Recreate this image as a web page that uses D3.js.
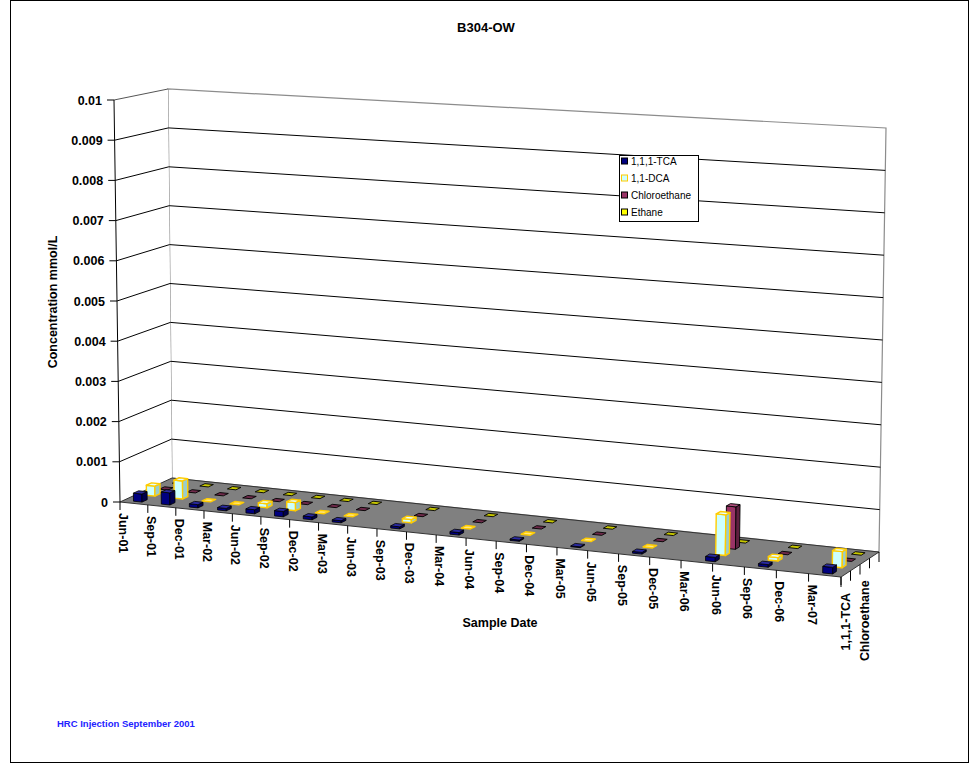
<!DOCTYPE html>
<html>
<head>
<meta charset="utf-8">
<script src="https://cdn.jsdelivr.net/npm/d3@7"></script>
<style>
  body { margin: 0; background: #fff; }
  svg { display: block; }
  text { font-family: Arial, "Liberation Sans", Helvetica, sans-serif; }
</style>
</head>
<body>
<svg id="chart" width="971" height="765"></svg>
<script>
// ---- data -----------------------------------------------------------
const seriesNames = ["1,1,1-TCA", "1,1-DCA", "Chloroethane", "Ethane"];
const sampleMonths = ["2001-07", "2001-10", "2002-01", "2002-04", "2002-07", "2002-10",
                      "2003-01", "2003-04", "2003-10", "2004-04", "2004-10", "2005-04",
                      "2005-10", "2006-05", "2006-10", "2007-04"];
const tcaValues    = [0.0002, 0.0003, 0.00008, 0.00006, 0.0001, 0.00013, 0.00007, 0.00005,
                      0.00005, 0.00006, 0.00003, 0.00002, 0.00004, 0.0001, 0.00006, 0.00015];
const dcaValues    = [0.00025, 0.00045, 0, 0, 0.0001, 0.0002, 0, 0,
                      0.00008, 0, 0, 0, 0, 0.00095, 0.00008, 0.00037];
const chloroValues = [0, 0, 0, 0, 0, 0, 0, 0, 0, 0, 0, 0, 0, 0.001, 0, 0];
const ethaneValues = [0, 0, 0, 0, 0, 0, 0, 0, 0, 0, 0, 0, 0, 0, 0, 0];
const quarterLabels = ["Jun-01", "Sep-01", "Dec-01", "Mar-02", "Jun-02", "Sep-02", "Dec-02",
                       "Mar-03", "Jun-03", "Sep-03", "Dec-03", "Mar-04", "Jun-04", "Sep-04",
                       "Dec-04", "Mar-05", "Jun-05", "Sep-05", "Dec-05", "Mar-06", "Jun-06",
                       "Sep-06", "Dec-06", "Mar-07"];
const yTicks = [0, 0.001, 0.002, 0.003, 0.004, 0.005, 0.006, 0.007, 0.008, 0.009, 0.01];
const yTickLabels = ["0", "0.001", "0.002", "0.003", "0.004", "0.005", "0.006",
                     "0.007", "0.008", "0.009", "0.01"];

const seriesValues = [tcaValues, dcaValues, chloroValues, ethaneValues];
const seriesStyle = [
  { front: "#000080", top: "#2a2aa0", side: "#00004d", flat: "#00004d", stroke: "#000000", sw: 0.8 },
  { front: "#ccffff", top: "#e6ffff", side: "#99cccc", flat: "#ffe680", stroke: "#ffcc00", sw: 1.4 },
  { front: "#993366", top: "#b0507f", side: "#5e1f3f", flat: "#6e2a4a", stroke: "#000000", sw: 0.9 },
  { front: "#ffff00", top: "#ffff66", side: "#b3b300", flat: "#c8c800", stroke: "#000000", sw: 0.9 }
];

// ---- 3-D box geometry ------------------------------------------------
// Screen corners of the plot cube; key = u (dates), w (series depth), v (value).
const cube = {
  "000": [120, 502], "001": [114, 100], "010": [172, 478], "011": [168, 89],
  "100": [841, 577], "101": [850, 137], "110": [879, 552], "111": [886, 128]
};
const perspective = 0.923;  // foreshortening along the date axis
function warp(u) { return perspective * u / (1 + (perspective - 1) * u); }
function project(u, w, v) {
  const a = warp(u);
  let x = 0, y = 0;
  for (const key in cube) {
    const cu = +key[0], cw = +key[1], cv = +key[2];
    const wt = (cu ? a : 1 - a) * (cw ? w : 1 - w) * (cv ? v : 1 - v);
    x += wt * cube[key][0];
    y += wt * cube[key][1];
  }
  return [x, y];
}
const pathOf = pts => "M" + pts.map(p => p[0].toFixed(2) + "," + p[1].toFixed(2)).join("L") + "Z";

// ---- scales ------------------------------------------------------------
const monthKey = d3.timeFormat("%Y-%m");
const months = d3.timeMonth.range(new Date(2001, 5, 1), new Date(2007, 5, 1));
const xBand = d3.scaleBand().domain(months.map(monthKey)).range([0, 1]);
const zBand = d3.scaleBand().domain(seriesNames).range([0, 1]).paddingInner(0.6).paddingOuter(0.3);
const zStep = d3.scaleBand().domain(seriesNames).range([0, 1]);
const yScale = d3.scaleLinear().domain([0, 0.01]).range([0, 1]);

const svg = d3.select("#chart");

// outer frame
svg.append("rect").attr("x", 10.5).attr("y", 0.5).attr("width", 958).attr("height", 762)
  .attr("fill", "#fff").attr("stroke", "#000").attr("stroke-width", 1);

// title
svg.append("text").attr("x", 486).attr("y", 32).attr("text-anchor", "middle")
  .attr("font-size", 13).attr("font-weight", "bold").text("B304-OW");

// ---- walls -------------------------------------------------------------
const walls = svg.append("g");
walls.append("path")
  .attr("d", pathOf([project(0, 1, 0), project(1, 1, 0), project(1, 1, 1), project(0, 1, 1)]))
  .attr("fill", "#fff").attr("stroke", "#8c8c8c").attr("stroke-width", 1.2);
walls.append("path")
  .attr("d", pathOf([project(0, 0, 0), project(0, 1, 0), project(0, 1, 1), project(0, 0, 1)]))
  .attr("fill", "#fff").attr("stroke", "none");
walls.append("line")
  .attr("x1", project(0, 0, 1)[0]).attr("y1", project(0, 0, 1)[1])
  .attr("x2", project(0, 1, 1)[0]).attr("y2", project(0, 1, 1)[1])
  .attr("stroke", "#555").attr("stroke-width", 1);

// gridlines on the side and back walls
yTicks.filter(t => t > 0 && t < 0.01).forEach(t => {
  const v = yScale(t);
  const a = project(0, 0, v), b = project(0, 1, v), c = project(1, 1, v);
  walls.append("path").attr("d", `M${a[0]},${a[1]}L${b[0]},${b[1]}L${c[0]},${c[1]}`)
    .attr("fill", "none").attr("stroke", "#000").attr("stroke-width", 1);
});

// floor
svg.append("path")
  .attr("d", pathOf([project(0, 0, 0), project(1, 0, 0), project(1, 1, 0), project(0, 1, 0)]))
  .attr("fill", "#808080").attr("stroke", "#333").attr("stroke-width", 1);

// ---- legend --------------------------------------------------------------
const legend = svg.append("g");
legend.append("rect").attr("x", 619.5).attr("y", 155.5).attr("width", 79).attr("height", 66)
  .attr("fill", "#fff").attr("stroke", "#000").attr("stroke-width", 1);
seriesNames.forEach((name, i) => {
  const cy = 161.5 + i * 17;
  legend.append("rect").attr("x", 621.5).attr("y", cy - 3.5).attr("width", 6).attr("height", 6)
    .attr("fill", seriesStyle[i].front).attr("stroke", seriesStyle[i].stroke).attr("stroke-width", 1);
  legend.append("text").attr("x", 631).attr("y", cy + 3.5).attr("font-size", 10).text(name);
});

// ---- columns ---------------------------------------------------------------
const bars = svg.append("g");
const parseMonth = d3.timeParse("%Y-%m");
for (let s = seriesNames.length - 1; s >= 0; s--) {
  const st = seriesStyle[s];
  const w0 = zBand(seriesNames[s]), w1 = w0 + zBand.bandwidth();
  seriesValues[s].forEach((val, i) => {
    if (val == null) return;
    const key = monthKey(parseMonth(sampleMonths[i]));
    const bw = xBand.bandwidth();
    const u0 = xBand(key) + bw * 0.04, u1 = xBand(key) + bw * 0.96;
    const v = yScale(val);
    const g = bars.append("g").attr("stroke", st.stroke).attr("stroke-width", st.sw)
      .attr("stroke-linejoin", "round");
    if (v > 0) {
      g.append("path").attr("fill", st.front)
        .attr("d", pathOf([project(u0, w0, 0), project(u1, w0, 0), project(u1, w0, v), project(u0, w0, v)]));
      g.append("path").attr("fill", st.side)
        .attr("d", pathOf([project(u1, w0, 0), project(u1, w1, 0), project(u1, w1, v), project(u1, w0, v)]));
    }
    g.append("path").attr("fill", v > 0 ? st.top : st.flat)
      .attr("d", pathOf([project(u0, w0, v), project(u1, w0, v), project(u1, w1, v), project(u0, w1, v)]));
  });
}

// ---- value axis --------------------------------------------------------------
const yAxis = svg.append("g");
const base = project(0, 0, 0), topPt = project(0, 0, 1);
yAxis.append("line").attr("x1", base[0]).attr("y1", base[1]).attr("x2", topPt[0]).attr("y2", topPt[1])
  .attr("stroke", "#000").attr("stroke-width", 1);
yTicks.forEach((t, i) => {
  const p = project(0, 0, yScale(t));
  yAxis.append("line").attr("x1", p[0] - 7).attr("y1", p[1]).attr("x2", p[0]).attr("y2", p[1])
    .attr("stroke", "#000");
  yAxis.append("text").attr("x", p[0] - 12).attr("y", p[1] + 4.5).attr("text-anchor", "end")
    .attr("font-size", 12.5).attr("font-weight", "bold").text(yTickLabels[i]);
});
svg.append("text").attr("transform", "translate(57,302) rotate(-90)").attr("text-anchor", "middle")
  .attr("font-size", 12.5).attr("font-weight", "bold").text("Concentration mmol/L");

// ---- date axis -----------------------------------------------------------------
const xAxis = svg.append("g");
const tickUs = quarterLabels.map((lab, i) => xBand(monthKey(months[i * 3])));
tickUs.concat([1]).forEach(u => {
  const p = project(u, 0, 0);
  xAxis.append("line").attr("x1", p[0]).attr("y1", p[1]).attr("x2", p[0]).attr("y2", p[1] + 8)
    .attr("stroke", "#000");
});
quarterLabels.forEach((lab, i) => {
  const p = project(tickUs[i], 0, 0);
  xAxis.append("text").attr("transform", `translate(${p[0] + 3},${p[1] + 11}) rotate(90)`)
    .attr("dominant-baseline", "central").attr("font-size", 12.5).attr("font-weight", "bold").text(lab);
});
svg.append("text").attr("x", 500).attr("y", 627).attr("text-anchor", "middle")
  .attr("font-size", 12.5).attr("font-weight", "bold").text("Sample Date");

// ---- series (depth) axis --------------------------------------------------------
const zAxis = svg.append("g");
[0, 1, 2, 3, 4].forEach(k => {
  const w = k < 4 ? zStep(seriesNames[k]) : 1;
  const p = project(1, w, 0);
  zAxis.append("line").attr("x1", p[0]).attr("y1", p[1]).attr("x2", p[0]).attr("y2", p[1] + 10)
    .attr("stroke", "#000");
});
seriesNames.forEach((name, i) => {
  if (i % 2 === 1) return;   // alternate labels only, as space allows
  const p = project(1, zStep(name) + zStep.bandwidth() / 2, 0);
  zAxis.append("text").attr("transform", `translate(${p[0]},${p[1] + 19}) rotate(-90)`)
    .attr("text-anchor", "end").attr("dominant-baseline", "central")
    .attr("font-size", 12.5).attr("font-weight", "bold").text(name);
});

// note
svg.append("text").attr("x", 57).attr("y", 727).attr("font-size", 9.5).attr("font-weight", "bold")
  .attr("fill", "#2222ff").text("HRC Injection September 2001");
</script>
</body>
</html>
